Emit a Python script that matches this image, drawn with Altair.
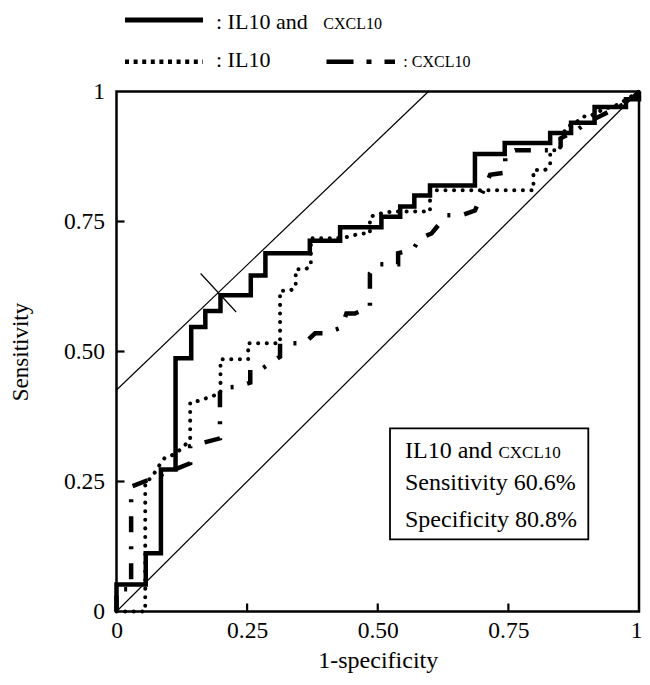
import altair as alt
import pandas as pd

# ROC curves (1-specificity, sensitivity)
combined_pts = [(0, 0), (0, 0.052), (0.056, 0.052), (0.056, 0.112), (0.085, 0.112), (0.085, 0.273),
                (0.113, 0.273), (0.113, 0.487), (0.143, 0.487), (0.143, 0.547), (0.170, 0.547), (0.170, 0.578),
                (0.199, 0.578), (0.199, 0.608), (0.257, 0.608), (0.257, 0.646), (0.285, 0.646), (0.285, 0.689),
                (0.370, 0.689), (0.370, 0.713), (0.428, 0.713), (0.428, 0.739), (0.507, 0.739), (0.507, 0.759),
                (0.543, 0.759), (0.543, 0.779), (0.570, 0.779), (0.570, 0.800), (0.600, 0.800), (0.600, 0.819),
                (0.686, 0.819), (0.686, 0.880), (0.743, 0.880), (0.743, 0.901), (0.830, 0.901), (0.830, 0.920),
                (0.870, 0.920), (0.870, 0.940), (0.915, 0.940), (0.915, 0.970), (0.975, 0.970), (0.975, 0.985),
                (1.0, 0.985), (1.0, 1.0)]
il10_pts = [(0, 0), (0.055, 0), (0.055, 0.25), (0.066, 0.256), (0.084, 0.284), (0.092, 0.295), (0.11, 0.302),
            (0.124, 0.313), (0.141, 0.33), (0.141, 0.402), (0.157, 0.405), (0.183, 0.414), (0.199, 0.42),
            (0.199, 0.485), (0.252, 0.485), (0.252, 0.516), (0.313, 0.516), (0.313, 0.617), (0.332, 0.617),
            (0.343, 0.623), (0.343, 0.658), (0.361, 0.658), (0.372, 0.664), (0.372, 0.718), (0.421, 0.718),
            (0.44, 0.72), (0.468, 0.727), (0.485, 0.727), (0.485, 0.759), (0.508, 0.766), (0.527, 0.769),
            (0.6, 0.769), (0.6, 0.81), (0.798, 0.81), (0.798, 0.849), (0.82, 0.849), (0.83, 0.857), (0.83, 0.887),
            (0.849, 0.887), (0.849, 0.907), (0.862, 0.932), (0.878, 0.939), (0.893, 0.952), (0.905, 0.952),
            (0.93, 0.965), (0.96, 0.975), (1, 1)]
cxcl10_pts = [(0, 0), (0, 0.043), (0.028, 0.043), (0.028, 0.24), (0.141, 0.285), (0.141, 0.318), (0.198, 0.333),
              (0.198, 0.43), (0.23, 0.432), (0.256, 0.44), (0.256, 0.466), (0.28, 0.468), (0.313, 0.49),
              (0.313, 0.516), (0.36, 0.516), (0.38, 0.535), (0.40, 0.535), (0.43, 0.546), (0.44, 0.573),
              (0.456, 0.573), (0.485, 0.585), (0.485, 0.65), (0.5, 0.668), (0.539, 0.668), (0.539, 0.689),
              (0.568, 0.697), (0.581, 0.718), (0.603, 0.727), (0.616, 0.743), (0.632, 0.762), (0.661, 0.762),
              (0.686, 0.771), (0.715, 0.84), (0.744, 0.844), (0.744, 0.878), (0.763, 0.887), (0.826, 0.887),
              (0.85, 0.89), (0.85, 0.91), (0.88, 0.925), (0.9, 0.94), (0.93, 0.955), (0.96, 0.97), (0.98, 0.98),
              (1, 1)]

# reference lines: chance diagonal and the parallel tangent through the cut-off point
ref_lines = [(0, 0, 1, 1), (0, 0.426, 0.597, 1)]
cutoff_mark = [(0.161, 0.650, 0.229, 0.576)]
tick_values = [0.25, 0.5, 0.75]
axis_values = [0, 0.25, 0.5, 0.75, 1]

SERIF = "Liberation Serif, Times New Roman, serif"
W, H = 522.5, 520


def curve_df(pts):
    return pd.DataFrame({"x": [p[0] for p in pts], "y": [p[1] for p in pts], "o": list(range(len(pts)))})


xs = alt.Scale(domain=[0, 1], nice=False, zero=False)
ys = alt.Scale(domain=[0, 1], nice=False, zero=False)
lbl = "datum.value == 0 ? '0' : datum.value == 1 ? '1' : format(datum.value, '.2f')"

x_axis = alt.Axis(values=axis_values, labelExpr=lbl, tickSize=0, domain=False, grid=False,
                  labelFont=SERIF, labelFontSize=23.5, labelColor="black", labelPadding=7,
                  labelFlush=False, labelOverlap=False,
                  labelAlign={"condition": {"test": "datum.value == 1", "value": "right"}, "value": "center"},
                  labelOffset={"condition": {"test": "datum.value == 1", "value": 3}, "value": 0},
                  title="1-specificity", titleFont=SERIF, titleFontSize=24, titleFontWeight="normal",
                  titleColor="black", titlePadding=6)
y_axis = alt.Axis(values=axis_values, labelExpr=lbl, tickSize=0, domain=False, grid=False,
                  labelFont=SERIF, labelFontSize=23.5, labelColor="black", labelPadding=12,
                  labelFlush=False, labelOverlap=False,
                  title="Sensitivity", titleFont=SERIF, titleFontSize=23, titleFontWeight="normal",
                  titleColor="black", titlePadding=31)


def X(field):
    return alt.X(field, scale=xs, axis=x_axis)


def Y(field):
    return alt.Y(field, scale=ys, axis=y_axis)


refs = alt.Chart(pd.DataFrame(ref_lines, columns=["x", "y", "x2", "y2"])).mark_rule(
    color="black", strokeWidth=1.2).encode(x=X("x:Q"), y=Y("y:Q"), x2="x2:Q", y2="y2:Q")
cross = alt.Chart(pd.DataFrame(cutoff_mark, columns=["x", "y", "x2", "y2"])).mark_rule(
    color="black", strokeWidth=1.2).encode(x=X("x:Q"), y=Y("y:Q"), x2="x2:Q", y2="y2:Q")

solid = alt.Chart(curve_df(combined_pts)).mark_line(
    color="black", strokeWidth=4.5, strokeJoin="miter", strokeCap="butt").encode(
    x=X("x:Q"), y=Y("y:Q"), order="o:Q")
dotted = alt.Chart(curve_df(il10_pts)).mark_line(
    color="black", strokeWidth=4, strokeDash=[0.1, 8.5], strokeCap="round").encode(
    x=X("x:Q"), y=Y("y:Q"), order="o:Q")
dashdot = alt.Chart(curve_df(cxcl10_pts)).mark_line(
    color="black", strokeWidth=4.5, strokeDash=[16, 14, 3, 14], strokeCap="butt").encode(
    x=X("x:Q"), y=Y("y:Q"), order="o:Q")

tdf = pd.DataFrame({"t": tick_values})
xticks = alt.Chart(tdf).mark_rule(color="black", strokeWidth=2.2).encode(
    x=X("t:Q"), y=alt.value(H), y2=alt.value(H - 8))
yticks = alt.Chart(tdf).mark_rule(color="black", strokeWidth=2.2).encode(
    y=Y("t:Q"), x=alt.value(0), x2=alt.value(8))

one = pd.DataFrame({"a": [0]})


def txt(s, x, y, size, align="left"):
    return alt.Chart(one).mark_text(text=s, font=SERIF, fontSize=size, align=align,
                                    baseline="alphabetic", color="black").encode(
        x=alt.value(x), y=alt.value(y))


# annotation box
box = alt.Chart(one).mark_rect(fill="white", stroke="black", strokeWidth=1.8).encode(
    x=alt.value(273.5), x2=alt.value(471.8), y=alt.value(336.8), y2=alt.value(447.8))
box_txt = [
    txt("IL10 and", 288.5, 366.8, 24),
    txt("CXCL10", 382, 366.8, 17),
    txt("Sensitivity 60.6%", 288.5, 398.5, 24),
    txt("Specificity 80.8%", 288.5, 435.2, 24),
]

# legend above the plot
leg = [
    alt.Chart(one).mark_rule(color="black", strokeWidth=5).encode(
        x=alt.value(8.5), x2=alt.value(86.5), y=alt.value(-71.5)),
    alt.Chart(one).mark_rule(color="black", strokeWidth=4.5, strokeDash=[4, 4.6], strokeCap="butt").encode(
        x=alt.value(8.5), x2=alt.value(86.5), y=alt.value(-29.8)),
    alt.Chart(one).mark_rule(color="black", strokeWidth=4.5, strokeDash=[27, 13, 5, 13, 30], strokeCap="butt").encode(
        x=alt.value(210), x2=alt.value(278.5), y=alt.value(-29.8)),
    txt(": IL10 and", 99.5, -63, 22),
    txt("CXCL10", 206.8, -63, 16),
    txt(": IL10", 99.5, -24.5, 22),
    txt(": CXCL10", 286.8, -24.5, 16),
]

chart = alt.layer(refs, cross, dotted, dashdot, solid, xticks, yticks, box, *box_txt, *leg).properties(
    width=W, height=H,
    autosize=alt.AutoSizeParams(type="none"),
    padding={"left": 108.5, "top": 83.5, "right": 3, "bottom": 70},
    background="white",
).configure_view(stroke="black", strokeWidth=2.5)

chart.save("out.html", embed_options={"renderer": "svg", "actions": False})
